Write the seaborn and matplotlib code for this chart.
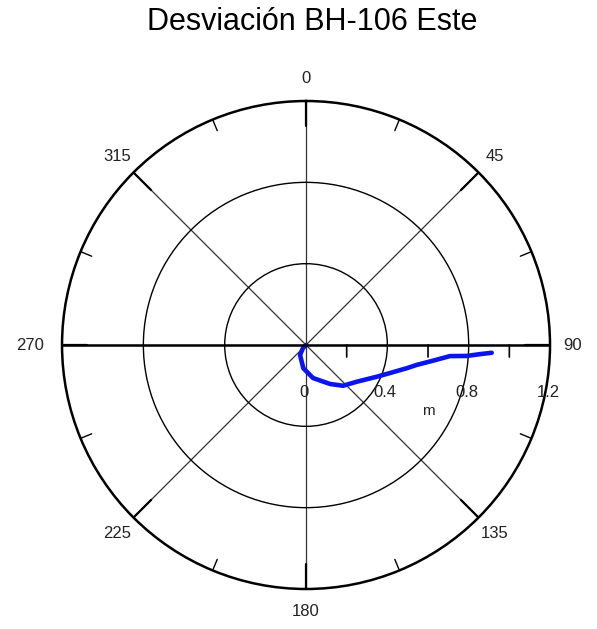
import matplotlib.pyplot as plt
import numpy as np
import seaborn as sns

# deviation path of the borehole (bearing in degrees clockwise from north, distance in m)
bearing_deg = [0, 225.0, 211.0, 186.6, 168.0, 148.4, 137.7, 125.9, 114.2, 108.4,
               103.0, 100.2, 97.05, 94.4, 93.9, 93.0, 92.4]
distance_m = [0.0, 0.021, 0.057, 0.115, 0.166, 0.225, 0.271, 0.308, 0.381, 0.436,
              0.508, 0.553, 0.629, 0.710, 0.792, 0.857, 0.914]

angle_ticks = [0, 45, 90, 135, 180, 225, 270, 315]
radius_ticks = [0, 0.4, 0.8, 1.2]
radius_minor = [0.2, 0.6, 1.0]
r_max = 1.2

sns.set_style("white")
plt.rcParams["font.family"] = ["Liberation Sans", "DejaVu Sans"]

fig = plt.figure(figsize=(5.97, 6.29), dpi=100)
ax = fig.add_axes([0.1039, 0.0636, 0.8174, 0.7758], projection="polar")
ax.set_theta_zero_location("N")
ax.set_theta_direction(-1)
ax.set_ylim(0, r_max)

theta = np.deg2rad(bearing_deg)
sns.lineplot(x=theta, y=distance_m, ax=ax, sort=False, color="#0a14f0",
             linewidth=3.3, estimator=None)

# angular grid; labels placed by hand around the circle
ax.set_xticks(np.deg2rad(angle_ticks))
ax.set_xticklabels([])
ax.xaxis.grid(True, color="#333333", linewidth=0.9)
px = r_max / 244
for a in angle_ticks:
    gap = 32 if a == 270 else 23
    ax.text(np.deg2rad(a), r_max + gap * px, str(a), ha="center", va="center",
            fontsize=12, color="#222222", clip_on=False)

# inward tick marks on the outer circle (major every 45, minor in between)
for a in angle_ticks:
    t = np.deg2rad(a)
    ax.plot([t, t], [r_max - 25 * px, r_max], color="black", linewidth=1.6)
    tm = np.deg2rad(a + 22.5)
    ax.plot([tm, tm], [r_max - 12 * px, r_max], color="black", linewidth=1.0)

# radial grid
ax.set_yticks(radius_ticks[1:3])
ax.set_yticklabels([])
ax.yaxis.grid(True, color="black", linewidth=1.0)
ax.spines["polar"].set_linewidth(1.8)
ax.spines["polar"].set_color("black")

# radial axis along the east-west diameter
ax.plot([np.pi / 2, np.pi / 2], [0, r_max], color="black", linewidth=1.8)
ax.plot([3 * np.pi / 2, 3 * np.pi / 2], [0, r_max], color="black", linewidth=1.8)
for r in radius_minor:
    ax.annotate("", xy=(np.pi / 2, r), xytext=(0, -12), textcoords="offset pixels",
                arrowprops=dict(arrowstyle="-", color="black", linewidth=1.2,
                                shrinkA=0, shrinkB=0))
for r in radius_ticks:
    label = "0" if r == 0 else f"{r:g}"
    ax.annotate(label, xy=(np.pi / 2, r), xytext=(-2, -47),
                textcoords="offset pixels", ha="center", va="center",
                fontsize=12, color="#222222")
ax.annotate("m", xy=(np.pi / 2, 0.6), xytext=(0, -66), textcoords="offset pixels",
            ha="center", va="center", fontsize=11, color="#222222")

fig.text(312 / 597, 1 - 22 / 629, "Desviación BH-106 Este", ha="center",
         va="center", fontsize=22, color="black")

fig.savefig("out.png", dpi=100)
